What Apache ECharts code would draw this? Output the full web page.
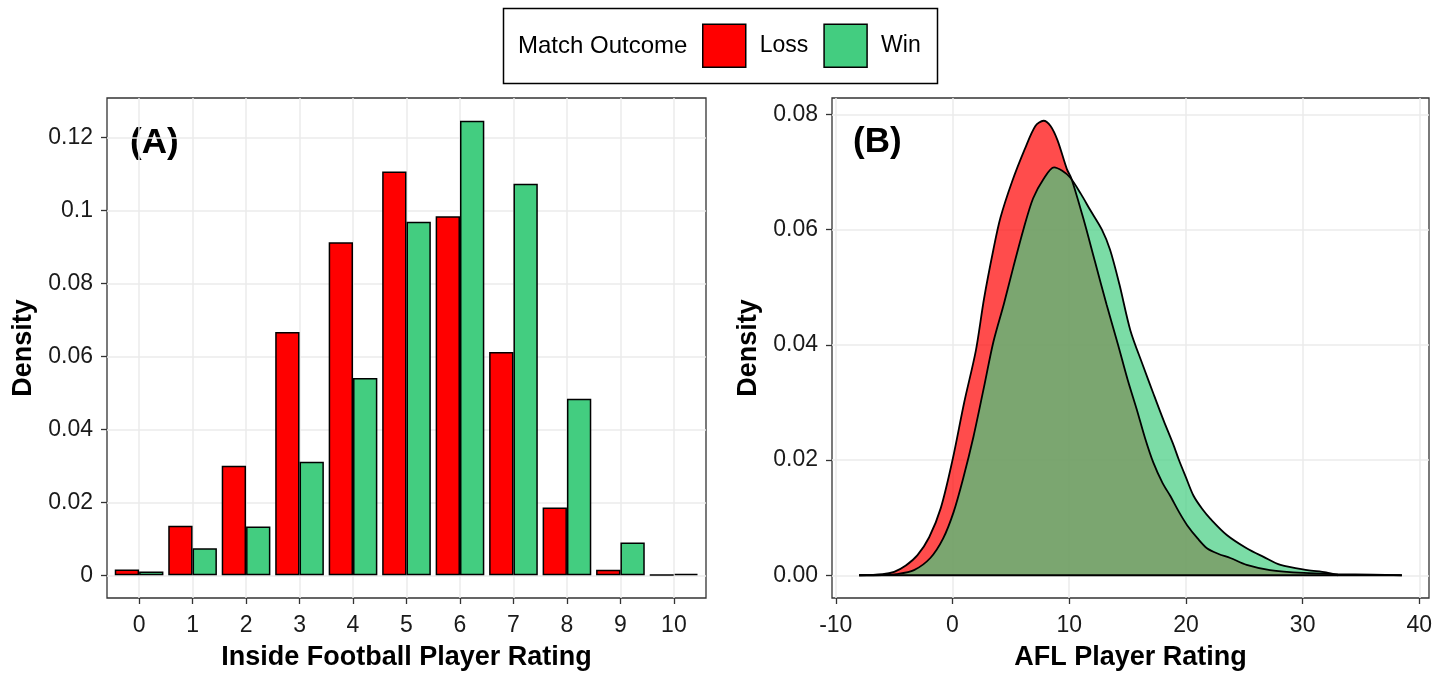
<!DOCTYPE html>
<html><head><meta charset="utf-8">
<script src="https://cdn.jsdelivr.net/npm/echarts@6/dist/echarts.min.js"></script>
<style>html,body{margin:0;padding:0;background:#fff}#c{width:1451px;height:676px}</style>
</head><body><div id="c"></div>
<script>
// ---------- Panel A: Inside Football Player Rating (density per rating) ----------
const ratingCats = [0, 1, 2, 3, 4, 5, 6, 7, 8, 9, 10];
const lossDensityA = [0.0016, 0.0136, 0.0300, 0.0667, 0.0913, 0.1107, 0.0984, 0.0612, 0.0186, 0.0015, 0.0001];
const winDensityA  = [0.0010, 0.0074, 0.0134, 0.0311, 0.0541, 0.0969, 0.1246, 0.1073, 0.0484, 0.0090, 0.0004];
const yTicksA = [0, 0.02, 0.04, 0.06, 0.08, 0.1, 0.12];

// ---------- Panel B: AFL Player Rating (kernel density curves) ----------
const lossX = [-8, -6, -5, -4, -3, -2, -1, 0, 1, 2, 2.7, 3.5, 4.1, 5.1, 6.2, 7.1, 7.8, 8.4, 9.0, 9.8, 10.2, 11.2, 12.2, 13.2, 14.2, 15.0, 15.8, 16.5, 17.2, 18.0, 18.65, 19.4, 20.1, 21.0, 21.8, 22.8, 23.8, 25.2, 27.2, 30.1, 33, 36, 38.5];
const lossY = [0, 0.0002, 0.0006, 0.0017, 0.0035, 0.0066, 0.0117, 0.0200, 0.0300, 0.0390, 0.0480, 0.0565, 0.0620, 0.0683, 0.0740, 0.0780, 0.0789, 0.0780, 0.0755, 0.0705, 0.0688, 0.0620, 0.0545, 0.0470, 0.0399, 0.0340, 0.0287, 0.0238, 0.0196, 0.0160, 0.0138, 0.0110, 0.0087, 0.0064, 0.0047, 0.0037, 0.0030, 0.0018, 0.0009, 0.0004, 0.0002, 0.0001, 0];
const winX = [-8, -6, -4.8, -3.3, -1.9, -0.8, 0.1, 0.9, 1.8, 2.7, 3.5, 4.4, 5.2, 6.1, 6.9, 7.8, 8.7, 9.4, 10.1, 11.0, 11.8, 12.8, 13.5, 14.3, 15.24, 16.3, 17.2, 18.1, 18.9, 19.4, 20.0, 20.65, 21.4, 22.1, 23.5, 25.2, 26.65, 28.1, 30.4, 32.0, 33.0];
const winY = [0, 0.00005, 0.0002, 0.0009, 0.0030, 0.0064, 0.0110, 0.0167, 0.0241, 0.0327, 0.0405, 0.0471, 0.0534, 0.0602, 0.0654, 0.0688, 0.0708, 0.0702, 0.0690, 0.0662, 0.0634, 0.0600, 0.0565, 0.0505, 0.0425, 0.0365, 0.0316, 0.0268, 0.0228, 0.0200, 0.0170, 0.0138, 0.0115, 0.0098, 0.0070, 0.0047, 0.0032, 0.0018, 0.0009, 0.0005, 0];
const xTicksB = [-10, 0, 10, 20, 30, 40];
const yTicksB = [0, 0.02, 0.04, 0.06, 0.08];

const seriesNames = ['Loss', 'Win'];
const legendTitle = 'Match Outcome';

// ---------- build ----------
const FONT = '"Liberation Sans", Arial, sans-serif';
const RED = '#ff0000', GREEN = '#43cd80';
const zip = (xs, ys) => xs.map((x, i) => [x, ys[i]]);
const pad = (lo, hi, f) => [lo - (hi - lo) * f, hi + (hi - lo) * f];

const yMaxA = Math.max(...lossDensityA, ...winDensityA);
const [yLoA, yHiA] = pad(0, yMaxA, 0.05);
const [xLoA, xHiA] = [ratingCats[0] - 0.6, ratingCats[ratingCats.length - 1] + 0.6];
const allBX = lossX.concat(winX), allBY = lossY.concat(winY);
const [xLoB, xHiB] = pad(Math.min(...allBX), Math.max(...allBX), 0.05);
const [yLoB, yHiB] = pad(0, Math.max(...allBY), 0.05);

function axisCommon(ticks, fmt, margin) {
  return {
    axisLine: { show: false, onZero: false },
    axisTick: { show: true, customValues: ticks, length: 6, lineStyle: { color: '#333', width: 1.3 } },
    axisLabel: { customValues: ticks, formatter: fmt, fontFamily: FONT, fontSize: 23, color: '#1a1a1a', margin: margin },
    splitLine: { show: true, lineStyle: { color: '#ebebeb', width: 1.5 } },
    nameTextStyle: { fontFamily: FONT, fontSize: 27, fontWeight: 'bold', color: '#000' }
  };
}

const chart = echarts.init(document.getElementById('c'), null, { renderer: 'canvas' });
const gridStyle = { show: true, borderColor: '#333', borderWidth: 1.3, backgroundColor: 'transparent', containLabel: false };

const option = {
  animation: false,
  backgroundColor: '#fff',
  grid: [
    Object.assign({ left: 107, top: 98, width: 599, height: 505 }, gridStyle),
    Object.assign({ left: 832, top: 98, width: 597, height: 505 }, gridStyle)
  ],
  xAxis: [
    Object.assign(axisCommon(ratingCats, v => String(v), 16), {
      type: 'value', gridIndex: 0, min: xLoA, max: xHiA,
      name: 'Inside Football Player Rating', nameLocation: 'middle', nameGap: 46
    }),
    Object.assign(axisCommon(xTicksB, v => String(v), 16), {
      type: 'value', gridIndex: 1, min: xLoB, max: xHiB,
      name: 'AFL Player Rating', nameLocation: 'middle', nameGap: 46
    })
  ],
  yAxis: [
    Object.assign(axisCommon(yTicksA, v => String(+v.toFixed(2)), 14), {
      type: 'value', gridIndex: 0, min: yLoA, max: yHiA,
      name: 'Density', nameLocation: 'middle', nameGap: 70, nameRotate: 90
    }),
    Object.assign(axisCommon(yTicksB, v => v.toFixed(2), 14), {
      type: 'value', gridIndex: 1, min: yLoB, max: yHiB,
      name: 'Density', nameLocation: 'middle', nameGap: 70, nameRotate: 90
    })
  ],
  legend: {
    left: 702, top: 23.5, padding: 0, itemWidth: 43, itemHeight: 43, itemGap: 15,
    icon: 'rect', selectedMode: false,
    data: [
      { name: seriesNames[0], itemStyle: { color: RED, borderColor: '#000', borderWidth: 1.5 } },
      { name: seriesNames[1], itemStyle: { color: GREEN, borderColor: '#000', borderWidth: 1.5 } }
    ],
    textStyle: { fontFamily: FONT, fontSize: 23, color: '#000', padding: [0, 0, 0, 9] }
  },
  graphic: [
    { type: 'rect', shape: { x: 503.5, y: 8.5, width: 434, height: 75 }, style: { fill: 'none', stroke: '#000', lineWidth: 1.5 } },
    { type: 'text', x: 518, y: 46, style: { text: legendTitle, font: '24px ' + FONT, fill: '#000', verticalAlign: 'middle' } },
    { type: 'text', x: 130, y: 143, style: { text: '(A)', font: 'bold 35px ' + FONT, fill: '#000', verticalAlign: 'middle' } },
    { type: 'text', x: 853, y: 142, style: { text: '(B)', font: 'bold 35px ' + FONT, fill: '#000', verticalAlign: 'middle' } }
  ],
  series: [
    {
      name: seriesNames[0], type: 'bar', xAxisIndex: 0, yAxisIndex: 0,
      data: zip(ratingCats, lossDensityA), barGap: '0%', barCategoryGap: '9%',
      itemStyle: { color: RED, borderColor: '#000', borderWidth: 1.5 }
    },
    {
      name: seriesNames[1], type: 'bar', xAxisIndex: 0, yAxisIndex: 0,
      data: zip(ratingCats, winDensityA), barGap: '0%', barCategoryGap: '9%',
      itemStyle: { color: GREEN, borderColor: '#000', borderWidth: 1.5 }
    },
    {
      name: seriesNames[0], type: 'line', xAxisIndex: 1, yAxisIndex: 1,
      data: zip(lossX, lossY), smooth: 0.3, symbol: 'none',
      lineStyle: { color: '#000', width: 1.8 }, itemStyle: { color: RED },
      areaStyle: { color: 'rgba(255,0,0,0.7)', opacity: 1 }
    },
    {
      name: seriesNames[1], type: 'line', xAxisIndex: 1, yAxisIndex: 1,
      data: zip(winX, winY), smooth: 0.3, symbol: 'none',
      lineStyle: { color: '#000', width: 1.8 }, itemStyle: { color: GREEN },
      areaStyle: { color: 'rgba(67,205,128,0.7)', opacity: 1 }
    },
    {
      name: 'baseline', type: 'line', xAxisIndex: 1, yAxisIndex: 1,
      data: [[Math.min(...allBX), 0], [Math.max(...allBX), 0]], symbol: 'none',
      lineStyle: { color: '#000', width: 1.8 }, silent: true
    }
  ]
};
chart.setOption(option);
</script>
</body></html>
